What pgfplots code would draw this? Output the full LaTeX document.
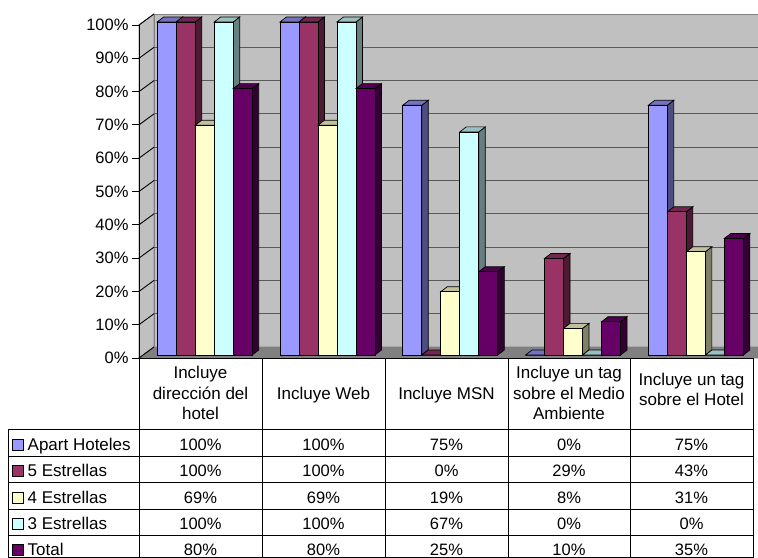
\documentclass[border=0pt]{standalone}
\usepackage{fontspec}
\setmainfont{Liberation Sans}
\usepackage{pgfplots}
\usepackage{pgfplotstable}
\pgfplotsset{compat=1.18}

\definecolor{apF}{HTML}{9999FF}\definecolor{apT}{HTML}{7373C0}\definecolor{apS}{HTML}{4D4D80}
\definecolor{c5F}{HTML}{993366}\definecolor{c5T}{HTML}{732650}\definecolor{c5S}{HTML}{4D1A33}
\definecolor{c4F}{HTML}{FFFFCC}\definecolor{c4T}{HTML}{C0C099}\definecolor{c4S}{HTML}{808066}
\definecolor{c3F}{HTML}{CCFFFF}\definecolor{c3T}{HTML}{99C0C0}\definecolor{c3S}{HTML}{668080}
\definecolor{toF}{HTML}{660066}\definecolor{toT}{HTML}{4D004D}\definecolor{toS}{HTML}{330033}
\definecolor{wall}{HTML}{C0C0C0}
\definecolor{floorc}{HTML}{808080}
\definecolor{gridc}{HTML}{5A5A5A}

\pgfplotstableread{
cat apart cinco cuatro tres total
0 100 100 69 100 80
1 100 100 69 100 80
2 75 0 19 67 25
3 0 29 8 0 10
4 75 43 31 0 35
}\datatable

% 3D box mark: #1 name, #2 series index (0..4), #3 front, #4 top, #5 side
\newcommand\defbar[5]{%
\pgfdeclareplotmark{#1}{%
  \pgfmathsetmacro\hh{\rawy*3.33}%
  \pgfmathsetmacro\xl{(#2-2.5)*19+4.25}%
  \pgfmathsetmacro\xr{\xl+19}%
  \pgfmathsetmacro\xrr{\xr+6.5}%
  \pgfmathsetmacro\xll{\xl+6.5}%
  \pgfmathsetmacro\yb{3-\hh}%
  \pgfmathsetmacro\ybb{\yb+5}%
  \pgfsetlinewidth{0.7bp}\pgfsetstrokecolor{black}\pgfsetmiterjoin
  % side face
  \pgfpathmoveto{\pgfpoint{\xr bp}{3bp}}%
  \pgfpathlineto{\pgfpoint{\xrr bp}{8bp}}%
  \pgfpathlineto{\pgfpoint{\xrr bp}{\ybb bp}}%
  \pgfpathlineto{\pgfpoint{\xr bp}{\yb bp}}%
  \pgfpathclose
  \pgfsetfillcolor{#5}\pgfusepath{fill,stroke}%
  % top face
  \pgfpathmoveto{\pgfpoint{\xl bp}{3bp}}%
  \pgfpathlineto{\pgfpoint{\xll bp}{8bp}}%
  \pgfpathlineto{\pgfpoint{\xrr bp}{8bp}}%
  \pgfpathlineto{\pgfpoint{\xr bp}{3bp}}%
  \pgfpathclose
  \pgfsetfillcolor{#4}\pgfusepath{fill,stroke}%
  % front face
  \pgfpathrectanglecorners{\pgfpoint{\xl bp}{\yb bp}}{\pgfpoint{\xr bp}{3bp}}%
  \pgfsetfillcolor{#3}\pgfusepath{fill,stroke}%
}}
\defbar{barA}{0}{apF}{apT}{apS}
\defbar{barB}{1}{c5F}{c5T}{c5S}
\defbar{barC}{2}{c4F}{c4T}{c4S}
\defbar{barD}{3}{c3F}{c3T}{c3S}
\defbar{barE}{4}{toF}{toT}{toS}

\pgfplotsset{box3d/.style={scatter, only marks, mark=#1,
  visualization depends on={rawy \as \rawy}}}

\newcommand\tf{\fontsize{16.5bp}{20bp}\selectfont}
\newcommand\tbf{\fontsize{17bp}{20bp}\selectfont}

\begin{document}
\begin{tikzpicture}
\useasboundingbox (0,0) rectangle (758bp,-558bp);
% walls and floor (image pixel coordinates, y downward)
\begin{scope}[x=1bp,y=-1bp]
  \filldraw[fill=wall, draw=floorc, line width=0.8] (139,25) -- (154,14) -- (154,347) -- (139,358) -- cycle;
  \filldraw[fill=wall, draw=floorc, line width=0.8] (154,14) -- (775,14) -- (775,347) -- (154,347) -- cycle;
  \filldraw[fill=floorc, draw=floorc, line width=0.8] (139,358) -- (154,347) -- (775,347) -- (760,358) -- cycle;
  \foreach \k in {1,...,9} {
    \draw[gridc, line width=1.1] (154,{347-33.3*\k}) -- (775,{347-33.3*\k});
    \draw[black, line width=0.9] (139,{358-33.3*\k}) -- (154,{347-33.3*\k});
  }
  \draw[black, line width=0.9] (139,25) -- (154,14);
  \draw[black, line width=0.9] (139,358) -- (154,347);
\end{scope}

\begin{axis}[
  at={(139bp,-358bp)}, anchor=south west,
  scale only axis, width=614bp, height=333bp,
  xmin=-0.5, xmax=4.5, ymin=0, ymax=100,
  clip=false,
  axis x line=none, axis y line*=left,
  axis line style={black, line width=0.9bp},
  ytick={0,10,...,100},
  tick align=outside, major tick length=7bp,
  ytick style={black, line width=0.9bp},
  yticklabel={\pgfmathprintnumber[assume math mode=true]{\tick}\%},
  yticklabel style={font=\tf, text=black},
]
\addplot[box3d=barA] table[x=cat, y=apart] {\datatable};
\addplot[box3d=barB] table[x=cat, y=cinco] {\datatable};
\addplot[box3d=barC] table[x=cat, y=cuatro] {\datatable};
\addplot[box3d=barD] table[x=cat, y=tres] {\datatable};
\addplot[box3d=barE] table[x=cat, y=total] {\datatable};
\end{axis}

% data table
\begin{scope}[x=1bp,y=-1bp]
  \draw[black, line width=0.9] (139,358) -- (753,358);
  \foreach \xx in {139,262,385,508,630,753} \draw[black, line width=0.9] (\xx,358) -- (\xx,557.5);
  \draw[black, line width=0.9] (8.7,429.3) -- (8.7,557.5);
  \foreach \yy in {429.3,456,482.5,509,535.5,557.5} \draw[black, line width=0.9] (8.7,\yy) -- (753,\yy);
  % headers
  \tbf
  \node[anchor=base] at (200.5,378.5) {Incluye};
  \node[anchor=base] at (200.5,399.3) {dirección del};
  \node[anchor=base] at (200.5,419.5) {hotel};
  \node[anchor=base] at (323.5,399.3) {Incluye Web};
  \node[anchor=base] at (446.5,399.3) {Incluye MSN};
  \node[anchor=base] at (569,378.5) {Incluye un tag};
  \node[anchor=base] at (569,399.3) {sobre el Medio};
  \node[anchor=base] at (569,419.5) {Ambiente};
  \node[anchor=base] at (691.5,385) {Incluye un tag};
  \node[anchor=base] at (691.5,405) {sobre el Hotel};
  % legend column
  \foreach \nm/\col/\yy in {Apart Hoteles/apF/450.5, 5 Estrellas/c5F/476.8, 4 Estrellas/c4F/503.1, 3 Estrellas/c3F/529.4, Total/toF/555.2} {
    \filldraw[fill=\col, draw=black, line width=0.8] (12.7,\yy-11) rectangle (23.7,\yy);
    \node[anchor=base west, inner sep=0] at (27.5,\yy) {\nm};
  }
  % values
  \foreach \yy/\a/\b/\c/\d/\e in {450.5/100\%/100\%/75\%/0\%/75\%, 476.8/100\%/100\%/0\%/29\%/43\%, 503.1/69\%/69\%/19\%/8\%/31\%, 529.4/100\%/100\%/67\%/0\%/0\%, 555.2/80\%/80\%/25\%/10\%/35\%} {
    \node[anchor=base, inner sep=0] at (200.5,\yy) {\tf\a};
    \node[anchor=base, inner sep=0] at (323.5,\yy) {\tf\b};
    \node[anchor=base, inner sep=0] at (446.5,\yy) {\tf\c};
    \node[anchor=base, inner sep=0] at (569,\yy) {\tf\d};
    \node[anchor=base, inner sep=0] at (691.5,\yy) {\tf\e};
  }
\end{scope}
\end{tikzpicture}
\end{document}
